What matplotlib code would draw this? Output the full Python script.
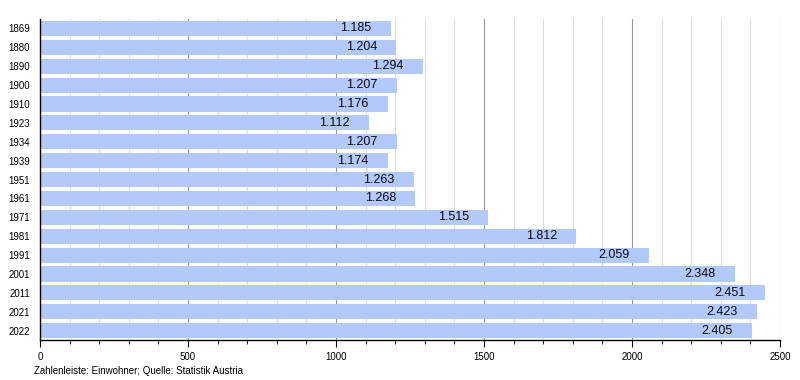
import matplotlib.pyplot as plt
from matplotlib.ticker import MultipleLocator

years = ["1869", "1880", "1890", "1900", "1910", "1923", "1934", "1939", "1951",
         "1961", "1971", "1981", "1991", "2001", "2011", "2021", "2022"]
pop = [1185, 1204, 1294, 1207, 1176, 1112, 1207, 1174, 1263,
       1268, 1515, 1812, 2059, 2348, 2451, 2423, 2405]

plt.rcParams['font.family'] = ['Liberation Sans', 'DejaVu Sans']

fig = plt.figure(figsize=(8, 3.8), dpi=100)
ax = fig.add_axes([0.05, 0.105, 0.925, 0.845])

pos = list(range(len(years)))[::-1]
ax.barh(pos, pop, height=0.8, color='#b3c9f9', zorder=2)
for p, v in zip(pos, pop):
    s = f"{v/1000:.3f}"
    ax.annotate(s, (v, p), xytext=(-14, 0), textcoords='offset points',
                ha='right', va='center', fontsize=9, color='#0a0a14', zorder=3)

ax.set_xlim(0, 2500)
ax.set_ylim(-0.5, len(years) - 0.5)
ax.set_yticks(pos)
ax.set_yticklabels(years, fontsize=7)
ax.xaxis.set_major_locator(MultipleLocator(500))
ax.xaxis.set_minor_locator(MultipleLocator(100))
ax.tick_params(axis='x', labelsize=7, length=5, direction='out')
ax.tick_params(axis='x', which='minor', length=3)
ax.tick_params(axis='y', length=0, pad=7)
ax.grid(axis='x', which='major', color='#999999', lw=0.8, zorder=0)
ax.grid(axis='x', which='minor', color='#dddddd', lw=0.8, zorder=0)
for s in ['top', 'right']:
    ax.spines[s].set_visible(False)
ax.spines['left'].set_linewidth(1)
ax.spines['bottom'].set_linewidth(1)

fig.text(0.043, 0.015, "Zahlenleiste: Einwohner; Quelle: Statistik Austria", fontsize=7)

plt.savefig('out.png')
